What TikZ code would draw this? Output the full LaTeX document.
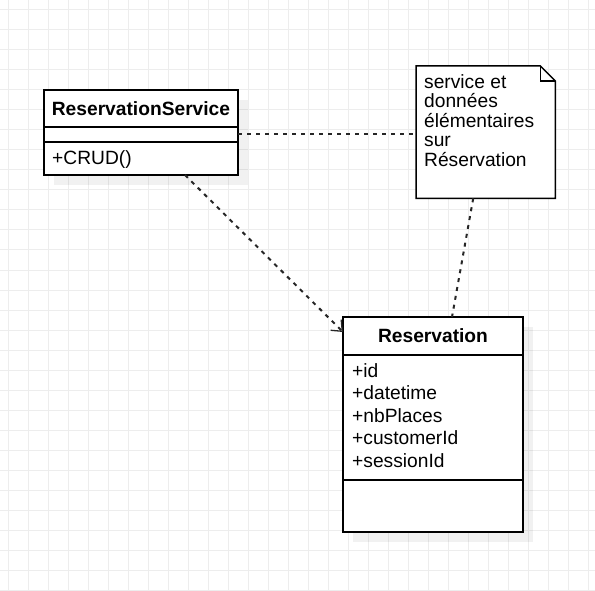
\documentclass[tikz,border=0pt]{standalone}
\usepackage{fontspec}
\setmainfont{Liberation Sans}
\usetikzlibrary{arrows.meta}
\definecolor{gridc}{HTML}{EDEDED}
\tikzset{
  gridline/.style={draw=gridc, line width=1pt},
  shadowbox/.style={fill=black, fill opacity=0.055, draw=none},
  umlpart/.style={draw=black, line width=1.5pt, fill=white, anchor=north west, inner sep=0pt, outer sep=0pt},
  titletext/.style={font=\fontsize{19.2}{22}\selectfont\bfseries},
  membertext/.style={font=\fontsize{19.2}{22}\selectfont, anchor=base west, inner sep=0pt},
  notetext/.style={font=\fontsize{19.2}{19.5}\selectfont, align=left, anchor=north west, inner sep=0pt},
  link/.style={draw=black!85, line width=2pt, dash pattern=on 4pt off 5pt},
  dep/.style={link, -{Straight Barb[length=9pt,width=15pt,line width=1.3pt]}},
}
\begin{document}
\begin{tikzpicture}[x=1pt,y=-1pt]
\useasboundingbox (0,0) rectangle (595,591);
% grid
\foreach \gx in {8,28,...,595} \draw[gridline] (\gx,0) -- (\gx,591);
\foreach \gy in {10,30,...,591} \draw[gridline] (0,\gy) -- (595,\gy);
% shadows
\fill[shadowbox] (54,100) rectangle (248,185);
\fill[shadowbox] (353,327) rectangle (533,542);
% ReservationService class
\node[umlpart, minimum width=194pt, minimum height=37pt] (svchead) at (44,90) {};
\node[umlpart, minimum width=194pt, minimum height=15pt] (svcattr) at (44,127) {};
\node[umlpart, minimum width=194pt, minimum height=33pt] (svcops) at (44,142) {};
\node[titletext] (svctitle) at (svchead.center) {ReservationService};
\node[membertext] (crud) at (52,165) {+CRUD()};
% Reservation class
\node[umlpart, minimum width=180pt, minimum height=38pt] (reshead) at (343,317) {};
\node[umlpart, minimum width=180pt, minimum height=125pt] (resattr) at (343,355) {};
\node[umlpart, minimum width=180pt, minimum height=52pt] (resops) at (343,480) {};
\node[titletext] (restitle) at (reshead.center) {Reservation};
\node[membertext] (aid) at (352,377) {+id};
\node[membertext] (adt) at (352,399.5) {+datetime};
\node[membertext] (anb) at (352,422) {+nbPlaces};
\node[membertext] (acu) at (352,444.5) {+customerId};
\node[membertext] (ase) at (352,467) {+sessionId};
% note
\node[anchor=north west, inner sep=0pt, minimum width=139pt, minimum height=132pt] (note) at (416,66) {};
\draw[line width=1.5pt, fill=white, line join=miter]
  (note.north west) -- ([xshift=-15pt]note.north east) -- ([yshift=-15pt]note.north east)
  -- (note.south east) -- (note.south west) -- cycle;
\draw[line width=1.5pt, line join=miter]
  ([xshift=-15pt]note.north east) -- ([xshift=-15pt,yshift=-15pt]note.north east) -- ([yshift=-15pt]note.north east);
\node[notetext] (notetxt) at (424,74) {service et\\données\\élémentaires\\sur\\Réservation};
% connectors
\draw[link] (svcattr.east) -- (svcattr.east -| note.west);
\draw[link] ([xshift=-12.5pt]note.south) -- ([xshift=19pt]reshead.north);
\draw[dep] ([xshift=44pt]svcops.south) -- ([yshift=4pt]reshead.west);
\end{tikzpicture}
\end{document}
